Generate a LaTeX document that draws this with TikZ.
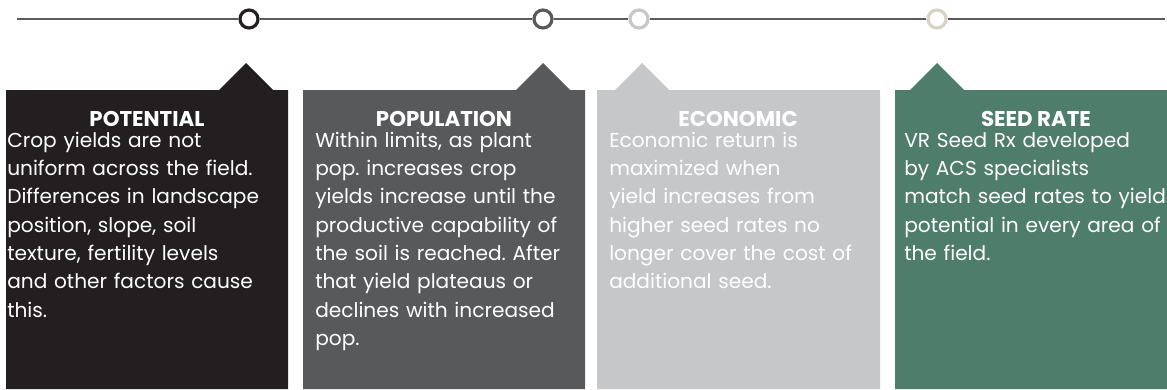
\documentclass[tikz,border=0pt]{standalone}
\usepackage{xcolor}
\usepackage{fontspec}
\setmainfont{Poppins}
\frenchspacing
\usepackage{tikz}
\usetikzlibrary{positioning}
\definecolor{potcol}{HTML}{231F20}
\definecolor{popcol}{HTML}{58595B}
\definecolor{ecocol}{HTML}{C6C7C9}
\definecolor{seedcol}{HTML}{4E7D6C}
\definecolor{beigecol}{HTML}{D9D3C6}
\definecolor{linecol}{HTML}{5B5B5D}
\tikzset{%
  every dot/.style={
    circle,
    fill=white,
    line width=2.4pt,
    minimum size=13.5pt,
    inner sep=0pt
  },
  tag/.style={
    anchor=base,
    inner sep=0pt,
    text=white,
    font=\fontsize{16}{18}\selectfont\bfseries
  },
  blurb/.style={
    anchor=north west,
    inner sep=0pt,
    text=white,
    align=left,
    text width=215pt,
    font=\fontsize{15.1}{21.225}\selectfont,
    execute at begin node=\strut
  },
}

\begin{document}
\begin{tikzpicture}[x=0.75pt,y=-0.75pt]
    \useasboundingbox (0,0) rectangle (1167,389);

    \fill [potcol]  (6,389) -- (6,90) -- (219,90) -- (246,63) -- (273,90) -- (288,90) -- (288,389) -- cycle;
    \fill [popcol]  (303,389) -- (303,90) -- (516,90) -- (543,63) -- (570,90) -- (585,90) -- (585,389) -- cycle;
    \fill [ecocol]  (597,389) -- (597,90) -- (615,90) -- (642,63) -- (669,90) -- (880,90) -- (880,389) -- cycle;
    \fill [seedcol] (895,389) -- (895,90) -- (910,90) -- (937,63) -- (964,90) -- (1167,90) -- (1167,389) -- cycle;

    \coordinate (lstart) at (17,19);
    \coordinate (lend) at (1165,19);
    \node (potdot)  [every dot,draw=potcol]   at (249,19) {};
    \node (popdot)  [every dot,draw=popcol]   at (543,19) {};
    \node (ecodot)  [every dot,draw=ecocol]   at (639,19) {};
    \node (seeddot) [every dot,draw=beigecol] at (937,19) {};

    \draw   [linecol,line width=1.6pt] (lstart)--(potdot);
    \draw   [linecol,line width=1.6pt] (potdot)--(popdot);
    \draw   [linecol,line width=1.6pt] (popdot)--(ecodot);
    \draw   [linecol,line width=1.6pt] (ecodot)--(seeddot);
    \draw   [linecol,line width=1.6pt] (seeddot)--(lend);

    \node (pottag)  [tag] at (147,126)  {POTENTIAL};
    \node (poptag)  [tag] at (444,126)  {POPULATION};
    \node (ecotag)  [tag] at (738,126)  {ECONOMIC};
    \node (seedtag) [tag] at (1036,126) {SEED RATE};

    \node (potblurb) [blurb] at (7,127.2)
    {Crop yields are not\\uniform across the field.\\Differences in landscape\\position, slope, soil\\texture, fertility levels\\and other factors cause\\this.};
    \node (popblurb) [blurb] at (315,127.2)
    {Within limits, as plant\\pop. increases crop\\yields increase until the\\productive capability of\\the soil is reached. After\\that yield plateaus or\\declines with increased\\pop.};
    \node (ecoblurb) [blurb] at (609,127.2)
    {Economic return is\\maximized when\\yield increases from\\higher seed rates no\\longer cover the cost of\\additional seed.};
    \node (seedblurb) [blurb] at (904,127.2)
    {VR Seed Rx developed\\by ACS specialists\\match seed rates to yield\\potential in every area of\\the field.};
\end{tikzpicture}
\end{document}
